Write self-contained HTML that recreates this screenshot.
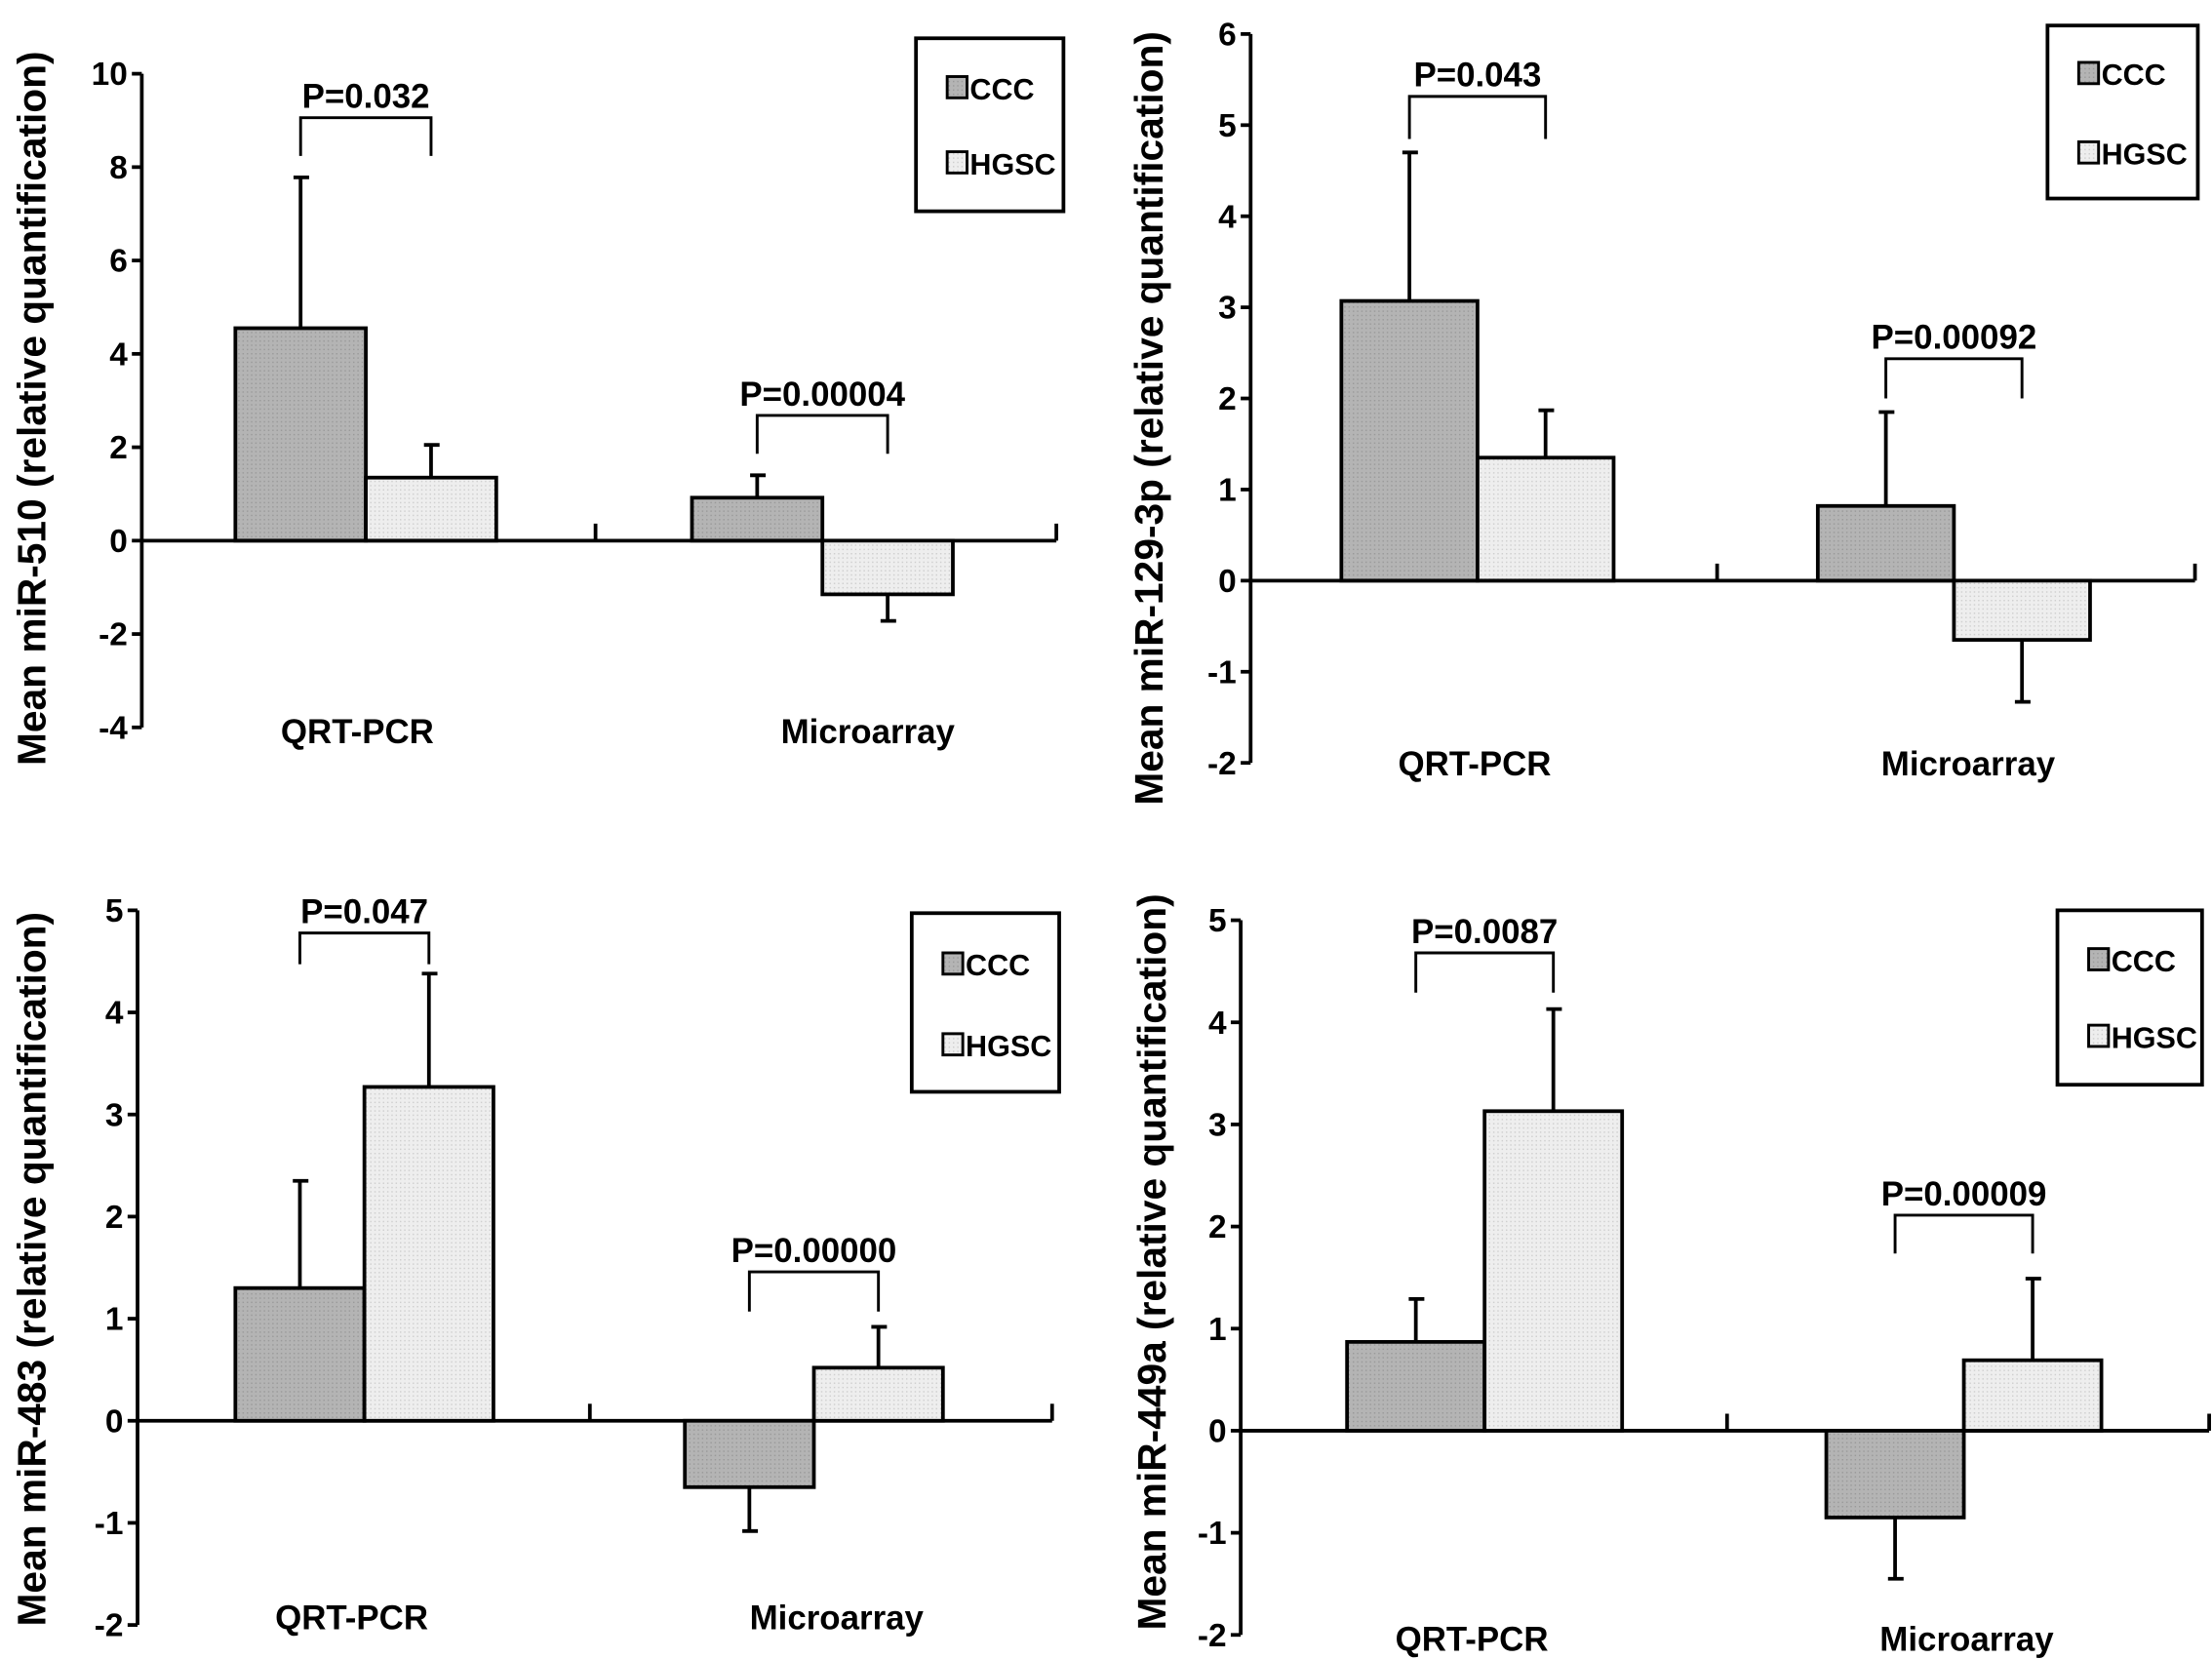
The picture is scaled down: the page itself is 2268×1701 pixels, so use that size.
<!DOCTYPE html>
<html><head><meta charset="utf-8"><style>
html,body{margin:0;padding:0;background:#fff;}
svg{display:block;}
text{font-family:"Liberation Sans",Arial,sans-serif;font-weight:bold;fill:#000;}
</style></head><body>
<svg id="fig" width="2268" height="1701" viewBox="0 0 1560 1170" preserveAspectRatio="none" xmlns="http://www.w3.org/2000/svg">
<defs>
<pattern id="dotA" width="3" height="3" patternUnits="userSpaceOnUse"><rect width="3" height="3" fill="#b4b4b4"/><rect width="1" height="1" fill="#9a9a9a"/></pattern>
<pattern id="dotB" width="3" height="3" patternUnits="userSpaceOnUse"><rect width="3" height="3" fill="#eeeeee"/><rect width="1" height="1" fill="#cfcfcf"/></pattern>
</defs>
</svg>
<script>
// ---- data ----
const categories = ["QRT-PCR", "Microarray"];
const seriesNames = ["CCC", "HGSC"];
const p1CCC = [4.55, 0.92];
const p1HGSC = [1.35, -1.15];
const p1CCCErr = [7.78, 1.4];
const p1HGSCErr = [2.05, -1.72];
const p1Ticks = [-4, -2, 0, 2, 4, 6, 8, 10];
const p1PVals = ["P=0.032", "P=0.00004"];

const p2CCC = [3.07, 0.82];
const p2HGSC = [1.35, -0.65];
const p2CCCErr = [4.7, 1.85];
const p2HGSCErr = [1.87, -1.33];
const p2Ticks = [-2, -1, 0, 1, 2, 3, 4, 5, 6];
const p2PVals = ["P=0.043", "P=0.00092"];

const p3CCC = [1.3, -0.65];
const p3HGSC = [3.27, 0.52];
const p3CCCErr = [2.35, -1.08];
const p3HGSCErr = [4.38, 0.92];
const p3Ticks = [-2, -1, 0, 1, 2, 3, 4, 5];
const p3PVals = ["P=0.047", "P=0.00000"];

const p4CCC = [0.87, -0.85];
const p4HGSC = [3.13, 0.69];
const p4CCCErr = [1.29, -1.45];
const p4HGSCErr = [4.13, 1.49];
const p4Ticks = [-2, -1, 0, 1, 2, 3, 4, 5];
const p4PVals = ["P=0.0087", "P=0.00009"];

const NS = "http://www.w3.org/2000/svg";
const svg = document.getElementById("fig");
function mk(tag, attrs, parent) {
  const e = document.createElementNS(NS, tag);
  for (const k in attrs) e.setAttribute(k, attrs[k]);
  (parent || svg).appendChild(e);
  return e;
}

function panel(cfg) {
  const g = mk("g", {});
  
  
  const tmin = cfg.ticks[0], tmax = cfg.ticks[cfg.ticks.length - 1];
  const y = v => cfg.yTop + (tmax - v) * (cfg.yBot - cfg.yTop) / (tmax - tmin);
  const sw = 2.6;
  const ax = mk("line", {x1: cfg.ax, y1: y(tmax), x2: cfg.ax, y2: y(tmin), stroke: "#000", "stroke-width": sw}, g);
  
  
  cfg.ticks.forEach(t => {
    const tl = mk("line", {x1: cfg.ax - 7, y1: y(t), x2: cfg.ax, y2: y(t), stroke: "#000", "stroke-width": sw}, g);
    
    
    const tx = mk("text", {x: cfg.ax - 10, y: y(t) + 8, "text-anchor": "end", "font-size": 23}, g);
    tx.textContent = t;
    
    
  });
  const z = y(0);
  const xa = mk("line", {x1: cfg.ax, y1: z, x2: cfg.xEnd, y2: z, stroke: "#000", "stroke-width": sw}, g);
  
  
  [cfg.mid, cfg.xEnd].forEach(xx => {
    const t = mk("line", {x1: xx, y1: z - 12, x2: xx, y2: z, stroke: "#000", "stroke-width": sw}, g);
    
    
  });
  const bw = cfg.bw;
  categories.forEach((c, i) => {
    const x0 = cfg.groupStart[i];
    const vals = [cfg.ccc[i], cfg.hgsc[i]];
    const errs = [cfg.cccErr[i], cfg.hgscErr[i]];
    vals.forEach((v, s) => {
      const bx = x0 + s * bw;
      const cx = bx + bw / 2;
      const e = mk("line", {x1: cx, y1: y(v), x2: cx, y2: y(errs[s]), stroke: "#000", "stroke-width": sw}, g);
      
      
      const cap = mk("line", {x1: cx - 5, y1: y(errs[s]), x2: cx + 6, y2: y(errs[s]), stroke: "#000", "stroke-width": sw}, g);
      
      
      const r = mk("rect", {x: bx, y: Math.min(y(v), z), width: bw, height: Math.abs(y(v) - z), fill: s === 0 ? "url(#dotA)" : "url(#dotB)", stroke: "#000", "stroke-width": sw}, g);
      
      
    });
    const bxL = x0 + bw / 2, bxR = x0 + bw * 1.5;
    const br = mk("polyline", {points: `${bxL},${cfg.brBot[i]} ${bxL},${cfg.brTop[i]} ${bxR},${cfg.brTop[i]} ${bxR},${cfg.brBot[i]}`, fill: "none", stroke: "#000", "stroke-width": 2}, g);
    
    
    const pt = mk("text", {x: (bxL + bxR) / 2, y: cfg.brTop[i] - 7, "text-anchor": "middle", "font-size": 24}, g);
    pt.textContent = cfg.pv[i];
    
    
    const cl = mk("text", {x: cfg.catX[i], y: cfg.catY, "text-anchor": "middle", "font-size": 24}, g);
    cl.textContent = c;
    
    
  });
  const yl = mk("text", {x: 0, y: 0, "text-anchor": "middle", "font-size": 28, transform: `translate(${cfg.ylX},${cfg.ylY}) rotate(-90)`}, g);
  yl.textContent = cfg.ylabel;
  
  
  const L = cfg.leg;
  const lb = mk("rect", {x: L[0], y: L[1], width: L[2] - L[0], height: L[3] - L[1], fill: "#fff", stroke: "#000", "stroke-width": 2.6}, g);
  
  
  seriesNames.forEach((n, s) => {
    const ly = cfg.legY[s];
    const sq = mk("rect", {x: L[0] + 22, y: ly - 8, width: 14, height: 15, fill: s === 0 ? "url(#dotA)" : "url(#dotB)", stroke: "#000", "stroke-width": 2}, g);
    
    
    const lt = mk("text", {x: L[0] + 38, y: ly + 8, "font-size": 21}, g);
    lt.textContent = n;
    
    
  });
}

panel({name: "panel-mir-510", ticks: p1Ticks, yTop: 52, yBot: 513, ax: 100, xEnd: 745, mid: 420, bw: 92,
  groupStart: [166, 488], ccc: p1CCC, hgsc: p1HGSC, cccErr: p1CCCErr, hgscErr: p1HGSCErr, pv: p1PVals,
  brTop: [83, 293], brBot: [110, 320], catX: [252, 612], catY: 524, ylX: 32, ylY: 288,
  ylabel: "Mean miR-510 (relative quantification)", leg: [646, 27, 750, 149], legY: [62, 115]});
panel({name: "panel-mir-129-3p", ticks: p2Ticks, yTop: 24, yBot: 538, ax: 882, xEnd: 1548, mid: 1211, bw: 96,
  groupStart: [946, 1282], ccc: p2CCC, hgsc: p2HGSC, cccErr: p2CCCErr, hgscErr: p2HGSCErr, pv: p2PVals,
  brTop: [68, 253], brBot: [98, 281], catX: [1040, 1388], catY: 547, ylX: 820, ylY: 295,
  ylabel: "Mean miR-129-3p (relative quantification)", leg: [1444, 18, 1550, 140], legY: [52, 108]});
panel({name: "panel-mir-483", ticks: p3Ticks, yTop: 642, yBot: 1146, ax: 97, xEnd: 742, mid: 416, bw: 91,
  groupStart: [166, 483], ccc: p3CCC, hgsc: p3HGSC, cccErr: p3CCCErr, hgscErr: p3HGSCErr, pv: p3PVals,
  brTop: [658, 897], brBot: [680, 925], catX: [248, 590], catY: 1149, ylX: 32, ylY: 895,
  ylabel: "Mean miR-483 (relative quantification)", leg: [643, 644, 747, 770], legY: [680, 737]});
panel({name: "panel-mir-449a", ticks: p4Ticks, yTop: 649, yBot: 1153, ax: 875, xEnd: 1558, mid: 1218, bw: 97,
  groupStart: [950, 1288], ccc: p4CCC, hgsc: p4HGSC, cccErr: p4CCCErr, hgscErr: p4HGSCErr, pv: p4PVals,
  brTop: [672, 857], brBot: [700, 884], catX: [1038, 1387], catY: 1164, ylX: 822, ylY: 890,
  ylabel: "Mean miR-449a (relative quantification)", leg: [1451, 642, 1553, 765], legY: [677, 731]});
</script>
</body></html>
